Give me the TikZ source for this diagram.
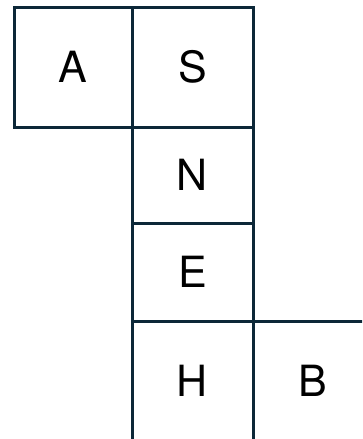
\documentclass[tikz,border=0pt]{standalone}
\usepackage{fontspec}
\setmainfont{TeX Gyre Heros}
\usepackage{xcolor}
\usepackage{tikz}
\definecolor{gridnavy}{RGB}{12,40,56}

\tikzset{
  cell/.style={draw=gridnavy, line width=3pt, inner sep=0pt,
    font=\fontsize{43}{43}\selectfont, text=black},
}

\begin{document}
\begin{tikzpicture}[x=1pt, y=-1pt]
  \useasboundingbox (0,0) rectangle (362,439);
  \clip (0,0) rectangle (362,439);
  % top row
  \node[cell, minimum width=118pt, minimum height=120pt] (a) at (73,67) {A};
  \node[cell, minimum width=121pt, minimum height=120pt] (s) at (192.5,67) {S};
  % middle column
  \node[cell, minimum width=121pt, minimum height=96pt] (n) at (192.5,175) {N};
  \node[cell, minimum width=121pt, minimum height=98pt] (e) at (192.5,272) {E};
  % bottom row, cut off by the edge
  \node[cell, minimum width=121pt, minimum height=120pt] (h) at (192.5,381) {H};
  \node[cell, minimum width=120pt, minimum height=120pt] (b) at (313,381) {B};
\end{tikzpicture}
\end{document}
